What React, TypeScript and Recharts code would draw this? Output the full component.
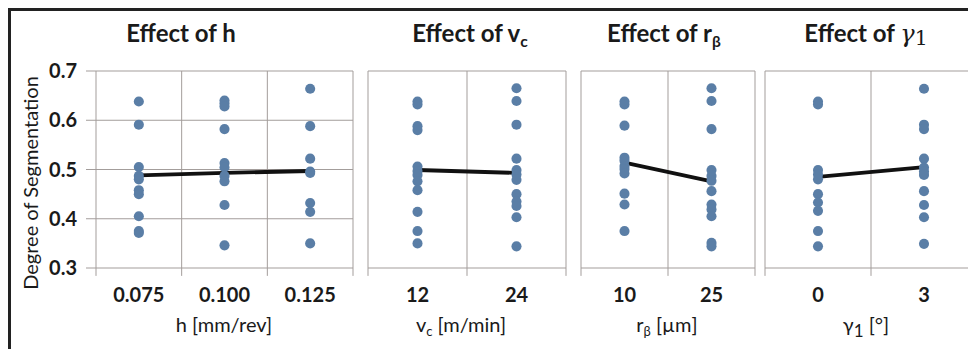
import React from "react";
import {
  ComposedChart,
  Scatter,
  Line,
  XAxis,
  YAxis,
  ZAxis,
  CartesianGrid,
  ReferenceLine,
} from "recharts";

const GRID = "#a39d9b";
const DOT = "#5a7ea6";
const INK = "#1a1a1a";
const FONT = "Lato, 'Open Sans', sans-serif";

// Effect of h [mm/rev]
const hLevels = ["0.075", "0.100", "0.125"];
const hValues = [
  [0.638, 0.591, 0.505, 0.487, 0.48, 0.458, 0.45, 0.405, 0.375, 0.371],
  [0.64, 0.634, 0.628, 0.582, 0.513, 0.504, 0.487, 0.476, 0.428, 0.346],
  [0.664, 0.588, 0.522, 0.496, 0.493, 0.432, 0.414, 0.35],
];
const hMeans = [0.488, 0.493, 0.497];

// Effect of vc [m/min]
const vcLevels = ["12", "24"];
const vcValues = [
  [0.638, 0.632, 0.588, 0.58, 0.506, 0.497, 0.489, 0.476, 0.458, 0.414, 0.375, 0.35],
  [0.665, 0.639, 0.591, 0.522, 0.499, 0.49, 0.479, 0.45, 0.435, 0.426, 0.403, 0.344],
];
const vcMeans = [0.499, 0.493];

// Effect of r_beta [um]
const rLevels = ["10", "25"];
const rValues = [
  [0.638, 0.632, 0.589, 0.524, 0.518, 0.507, 0.501, 0.492, 0.451, 0.429, 0.375],
  [0.665, 0.639, 0.582, 0.499, 0.487, 0.477, 0.456, 0.429, 0.419, 0.405, 0.351, 0.344],
];
const rMeans = [0.514, 0.476];

// Effect of gamma_1 [deg]
const gLevels = ["0", "3"];
const gValues = [
  [0.638, 0.632, 0.499, 0.49, 0.48, 0.45, 0.433, 0.416, 0.375, 0.344],
  [0.664, 0.591, 0.582, 0.522, 0.504, 0.496, 0.489, 0.456, 0.428, 0.403, 0.349],
];
const gMeans = [0.485, 0.505];

const yTicks = [0.3, 0.4, 0.5, 0.6, 0.7];

interface PanelProps {
  levels: string[];
  values: number[][];
  means: number[];
  left: number;
  width: number;
  marginLeft: number;
  marginRight: number;
  showY?: boolean;
}

const Panel: React.FC<PanelProps> = ({
  levels,
  values,
  means,
  left,
  width,
  marginLeft,
  marginRight,
  showY,
}) => {
  const n = levels.length;
  const points = values.flatMap((col, i) => col.map((y) => ({ x: i + 1, y })));
  const meanLine = means.map((y, i) => ({ x: i + 1, y }));
  // category boundaries carry the vertical gridlines and tick marks
  const bounds = Array.from({ length: n + 1 }, (_, i) => i + 0.5);
  const centers = levels.map((_, i) => i + 1);

  return (
    <div style={{ position: "absolute", left, top: 0 }}>
      <ComposedChart
        width={width}
        height={341}
        margin={{ top: 63, right: marginRight, bottom: 51, left: marginLeft }}
      >
        <CartesianGrid vertical={false} stroke={GRID} strokeWidth={1} />
        <XAxis
          type="number"
          dataKey="x"
          domain={[0.5, n + 0.5]}
          ticks={centers}
          interval={0}
          tickFormatter={(v) => levels[Math.round(Number(v)) - 1]}
          axisLine={false}
          tickLine={false}
          tickSize={0}
          tickMargin={20}
          height={30}
          tick={{ fill: INK, fontSize: 20, fontWeight: 700, fontFamily: FONT }}
        />
        {showY ? (
          <YAxis
            type="number"
            dataKey="y"
            domain={[0.3, 0.7]}
            ticks={yTicks}
            interval={0}
            tickFormatter={(v) => Number(v).toFixed(1)}
            width={60}
            tickSize={10}
            tickMargin={9}
            axisLine={false}
            tickLine={{ stroke: GRID }}
            tick={{ fill: INK, fontSize: 20, fontWeight: 700, fontFamily: FONT }}
          />
        ) : (
          <YAxis
            type="number"
            dataKey="y"
            domain={[0.3, 0.7]}
            ticks={yTicks}
            width={0}
            tick={false}
            axisLine={false}
            tickLine={false}
          />
        )}
        <ZAxis range={[80, 80]} />
        {bounds.map((b) => (
          <ReferenceLine key={`g${b}`} x={b} stroke={GRID} strokeWidth={1} ifOverflow="visible" />
        ))}
        {bounds.map((b) => (
          <ReferenceLine
            key={`t${b}`}
            segment={[
              { x: b, y: 0.3 },
              { x: b, y: 0.284 },
            ]}
            stroke={GRID}
            strokeWidth={1}
            ifOverflow="visible"
          />
        ))}
        <Scatter data={points} fill={DOT} isAnimationActive={false} />
        <Line
          data={meanLine}
          dataKey="y"
          type="linear"
          stroke="#111"
          strokeWidth={3.8}
          dot={false}
          isAnimationActive={false}
        />
      </ComposedChart>
    </div>
  );
};

const Label: React.FC<{ cx: number; top: number; size: number; bold?: boolean; children: React.ReactNode }> = ({
  cx,
  top,
  size,
  bold,
  children,
}) => (
  <div
    style={{
      position: "absolute",
      left: cx - 120,
      top,
      width: 240,
      textAlign: "center",
      fontFamily: FONT,
      fontSize: size,
      fontWeight: bold ? 700 : 400,
      color: INK,
      whiteSpace: "nowrap",
    }}
  >
    {children}
  </div>
);

const sub = (t: string, scale = 0.65) => (
  <span style={{ fontSize: `${scale}em`, position: "relative", top: "0.3em" }}>{t}</span>
);

const mathGamma = (
  <span style={{ fontFamily: "'DejaVu Serif', serif", fontStyle: "italic", fontWeight: 400 }}>
    γ<span style={{ fontStyle: "normal", fontSize: "0.85em", position: "relative", top: "0.15em" }}>1</span>
  </span>
);

export default function App() {
  return (
    <div
      style={{
        position: "relative",
        width: 968,
        height: 341,
        overflow: "hidden",
        background: "#fff",
      }}
    >
      <style>{`html,body{overflow:hidden;background:#fff}`}</style>
      <div
        style={{
          position: "absolute",
          left: 0,
          top: 0,
          width: 980,
          height: 360,
          borderLeft: "3px solid #222",
          borderTop: "3px solid #222",
          boxSizing: "border-box",
        }}
      />
      <Panel levels={hLevels} values={hValues} means={hMeans} left={0} width={352} marginLeft={28} marginRight={7} showY />
      <Panel levels={vcLevels} values={vcValues} means={vcMeans} left={352} width={214} marginLeft={8} marginRight={8} />
      <Panel levels={rLevels} values={rValues} means={rMeans} left={566} width={189} marginLeft={7} marginRight={8} />
      <Panel levels={gLevels} values={gValues} means={gMeans} left={755} width={222} marginLeft={2} marginRight={8} />

      <Label cx={173} top={10} size={24} bold>Effect of h</Label>
      <Label cx={462} top={10} size={24} bold>Effect of v{sub("c")}</Label>
      <Label cx={656} top={10} size={24} bold>Effect of r{sub("β")}</Label>
      <Label cx={858} top={10} size={24} bold>Effect of {mathGamma}</Label>

      <Label cx={216} top={304} size={20}>h [mm/rev]</Label>
      <Label cx={453} top={304} size={20}>v{sub("c")} [m/min]</Label>
      <Label cx={659} top={304} size={20}>r{sub("β")} [µm]</Label>
      <Label cx={858} top={304} size={20}>γ{sub("1", 0.85)} [°]</Label>

      <div
        style={{
          position: "absolute",
          left: 22,
          top: 175,
          transform: "translate(-50%, -50%) rotate(-90deg)",
          fontFamily: FONT,
          fontSize: 20,
          color: INK,
          whiteSpace: "nowrap",
        }}
      >
        Degree of Segmentation
      </div>
    </div>
  );
}
